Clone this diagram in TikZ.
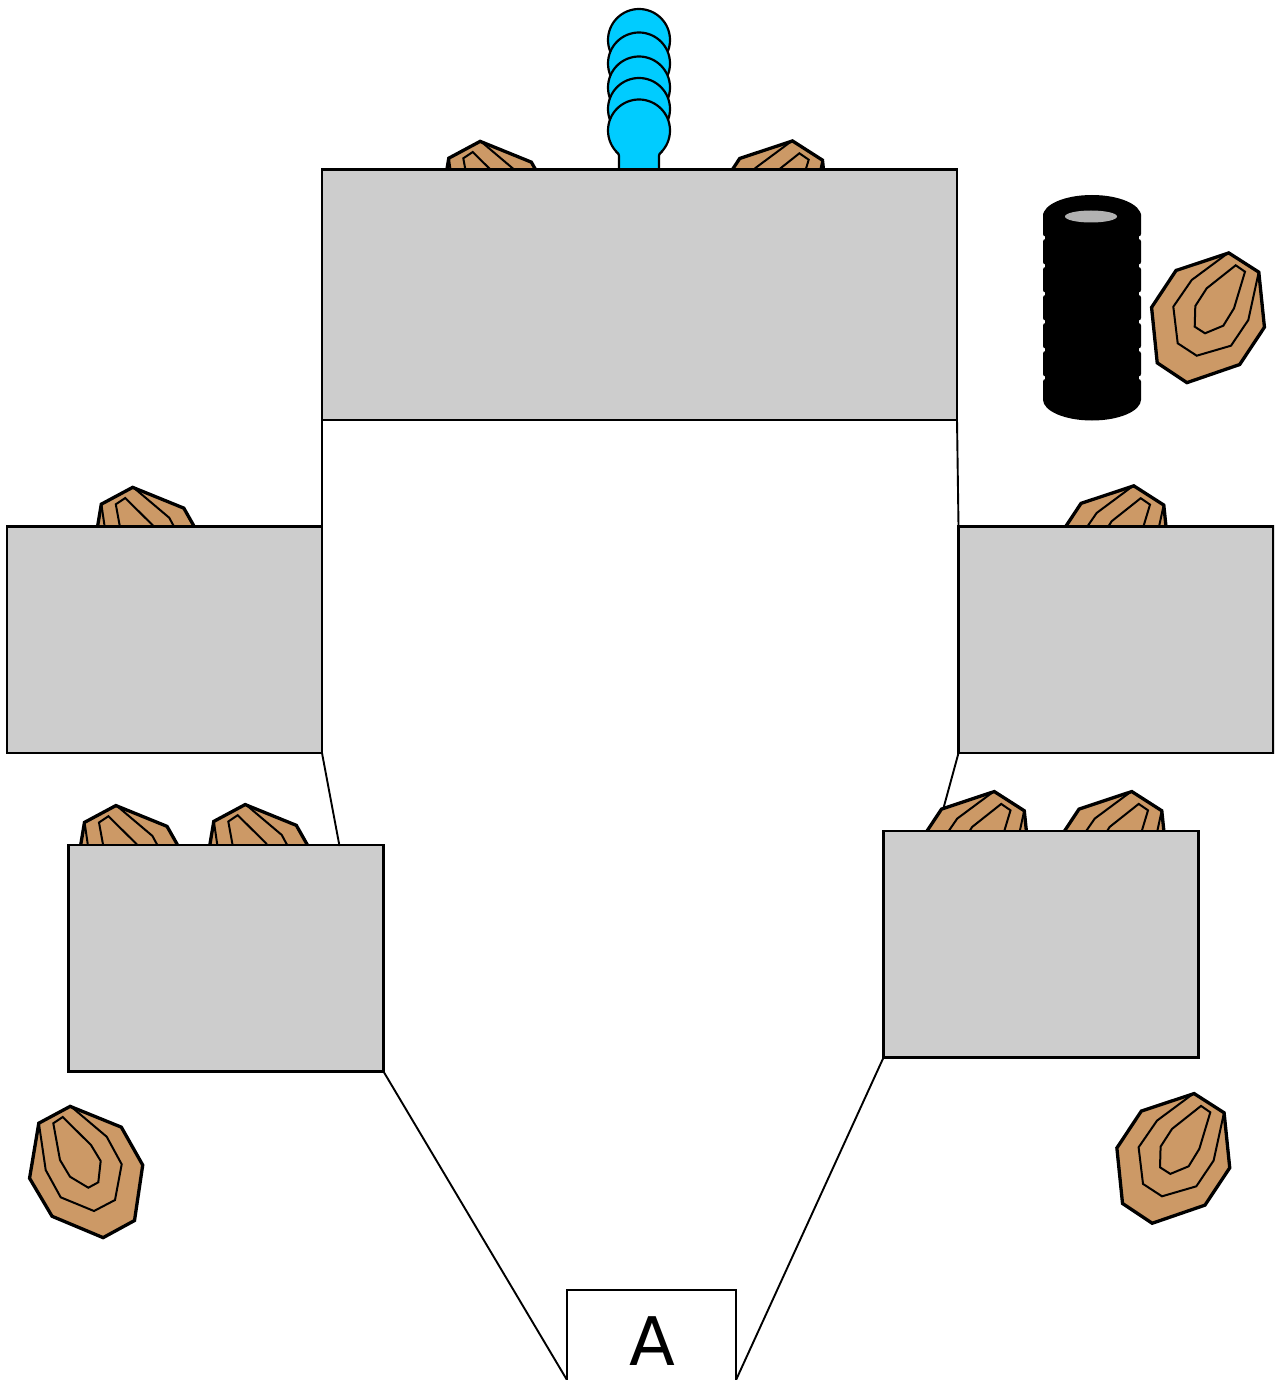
\documentclass[tikz,border=0pt]{standalone}
\usepackage{fontspec}
\setsansfont{DejaVu Sans}
\definecolor{rockc}{HTML}{CC9966}
\definecolor{beadc}{HTML}{00CCFF}
\definecolor{boxc}{HTML}{CDCDCD}
\tikzset{
  panel/.style={draw=black,fill=boxc,line width=2.3pt,rectangle,inner sep=0pt,outer sep=0pt,anchor=north west},
  link/.style={draw=black,line width=1.9pt},
  rockouter/.style={draw=black,fill=rockc,line width=3.3pt,line join=miter},
  rockinner/.style={draw=black,line width=2pt,line join=miter},
  bead/.style={circle,draw=black,fill=beadc,line width=2.2pt,minimum size=62pt,inner sep=0pt},
  rockR/.pic={
    \path[rockouter,shift={(-21,65)},scale=.99,shift={(21,-65)}] (0,0)--(30.3,19.4)--(36,75)--(11,112.7)--(-42.3,131)--(-72.3,111)--(-78,55)--(-53.3,17.7)--cycle;
    \draw[rockinner] (0,0)--(-37.3,27.7)--(-55.7,54.4)--(-51.3,91)--(-32.3,103.4)--(2,93.4)--(19.3,67.7)--(29.8,19.4);
    \draw[rockinner] (6.7,13)--(16,19.4)--(5,56)--(-5.7,73.4)--(-24,81)--(-34.3,74.4)--(-33.7,53.7)--(-22.3,36)--cycle;
  },
  rockL/.pic={
    \path[rockouter,shift={(16,66)},scale=.99,shift={(-16,-66)}] (0,0)--(51.7,21)--(73.3,59.3)--(65,115.3)--(33.3,132.6)--(-18.3,111)--(-41,72.6)--(-31.7,17)--cycle;
    \draw[rockinner] (0,0)--(36.7,31)--(51.7,58.6)--(45,94.3)--(24,105.3)--(-9.3,91.6)--(-24.3,64.3)--(-31.2,17);
    \draw[rockinner] (-7.3,11.3)--(21,39.3)--(30.7,55.3)--(28.3,76.6)--(18.3,82)--(0,71)--(-10,54.3)--(-16.7,17.6)--cycle;
  }
}
\begin{document}
\begin{tikzpicture}[x=1pt,y=-1pt]
\useasboundingbox (0,0) rectangle (1274,1380);
\clip (0,0) rectangle (1274,1380);
% free connector ends
\coordinate (endLL) at (339.5,846);
\coordinate (endLR) at (943.5,808);
\coordinate (endAL) at (567,1380);
\coordinate (endAR) at (736,1380);
% rocks that sit behind the panels
\pic at (480,140.7) {rockL};
\pic at (792.7,140.3) {rockR};
\pic at (132.5,486.7) {rockL};
\pic at (1134,485.2) {rockR};
\pic at (115.7,804.9) {rockL};
\pic at (245,803.9) {rockL};
\pic at (994.5,790.9) {rockR};
\pic at (1132,790.9) {rockR};
% loose rocks
\pic at (1229,252.3) {rockR};
\pic at (1194.3,1092.9) {rockR};
\pic at (70,1105.7) {rockL};
% blue stack
\node[bead] (b1) at (639,40) {};
\node[bead] (b2) at (639,63.5) {};
\node[bead] (b3) at (639,87.5) {};
\node[bead] (b4) at (639,109) {};
\node[bead] (b5) at (639,130.5) {};
\fill[beadc] (619,172) -- (619,158) .. controls (619,154) .. (615.5,151) -- (662.5,151) .. controls (659,154) .. (659,158) -- (659,172) -- cycle;
\draw[line width=2.2pt] (619,172) -- (619,158) .. controls (619,154) .. (615.5,151);
\draw[line width=2.2pt] (659,172) -- (659,158) .. controls (659,154) .. (662.5,151);
% black stack
\fill[black] (1092,216) ellipse [x radius=49,y radius=21];
\fill[black] (1092,399.5) ellipse [x radius=49,y radius=21];
\fill[black] (1044.6,216) rectangle (1139.4,400);
\foreach \ytop/\ybot in {212/236.5,239/264.5,267/292.5,295/320.5,323/348.5,351/376.5,379/402}{
  \fill[black,rounded corners=2.5pt] (1043,\ytop) rectangle (1141,\ybot);
}
\fill[black!30] (1091,216.5) ellipse [x radius=26,y radius=6];
% panels
\node[panel,minimum width=635pt,minimum height=250.5pt] (top) at (322,169.5) {};
\node[panel,minimum width=315pt,minimum height=226.5pt] (left) at (7,526.5) {};
\node[panel,minimum width=315pt,minimum height=226.5pt] (right) at (958.5,526.5) {};
\node[panel,minimum width=315pt,minimum height=226.5pt] (lowleft) at (68.5,845) {};
\node[panel,minimum width=315pt,minimum height=226.5pt] (lowright) at (883.5,831) {};
\node[draw=black,fill=white,line width=2pt,rectangle,inner sep=0pt,outer sep=0pt,anchor=north west,minimum width=169pt,minimum height=110pt] (abox) at (567,1290) {};
\node[font=\sffamily\fontsize{67}{70}\selectfont,anchor=base,inner sep=0pt] (alabel) at (652,1365) {A};
% connectors
\draw[link] (top.south west) -- (left.north east);
\draw[link] (top.south east) -- (right.north west);
\draw[link] (left.south east) -- (endLL);
\draw[link] (right.south west) -- (endLR);
\draw[link] (lowleft.south east) -- (endAL);
\draw[link] (lowright.south west) -- (endAR);
\end{tikzpicture}
\end{document}
